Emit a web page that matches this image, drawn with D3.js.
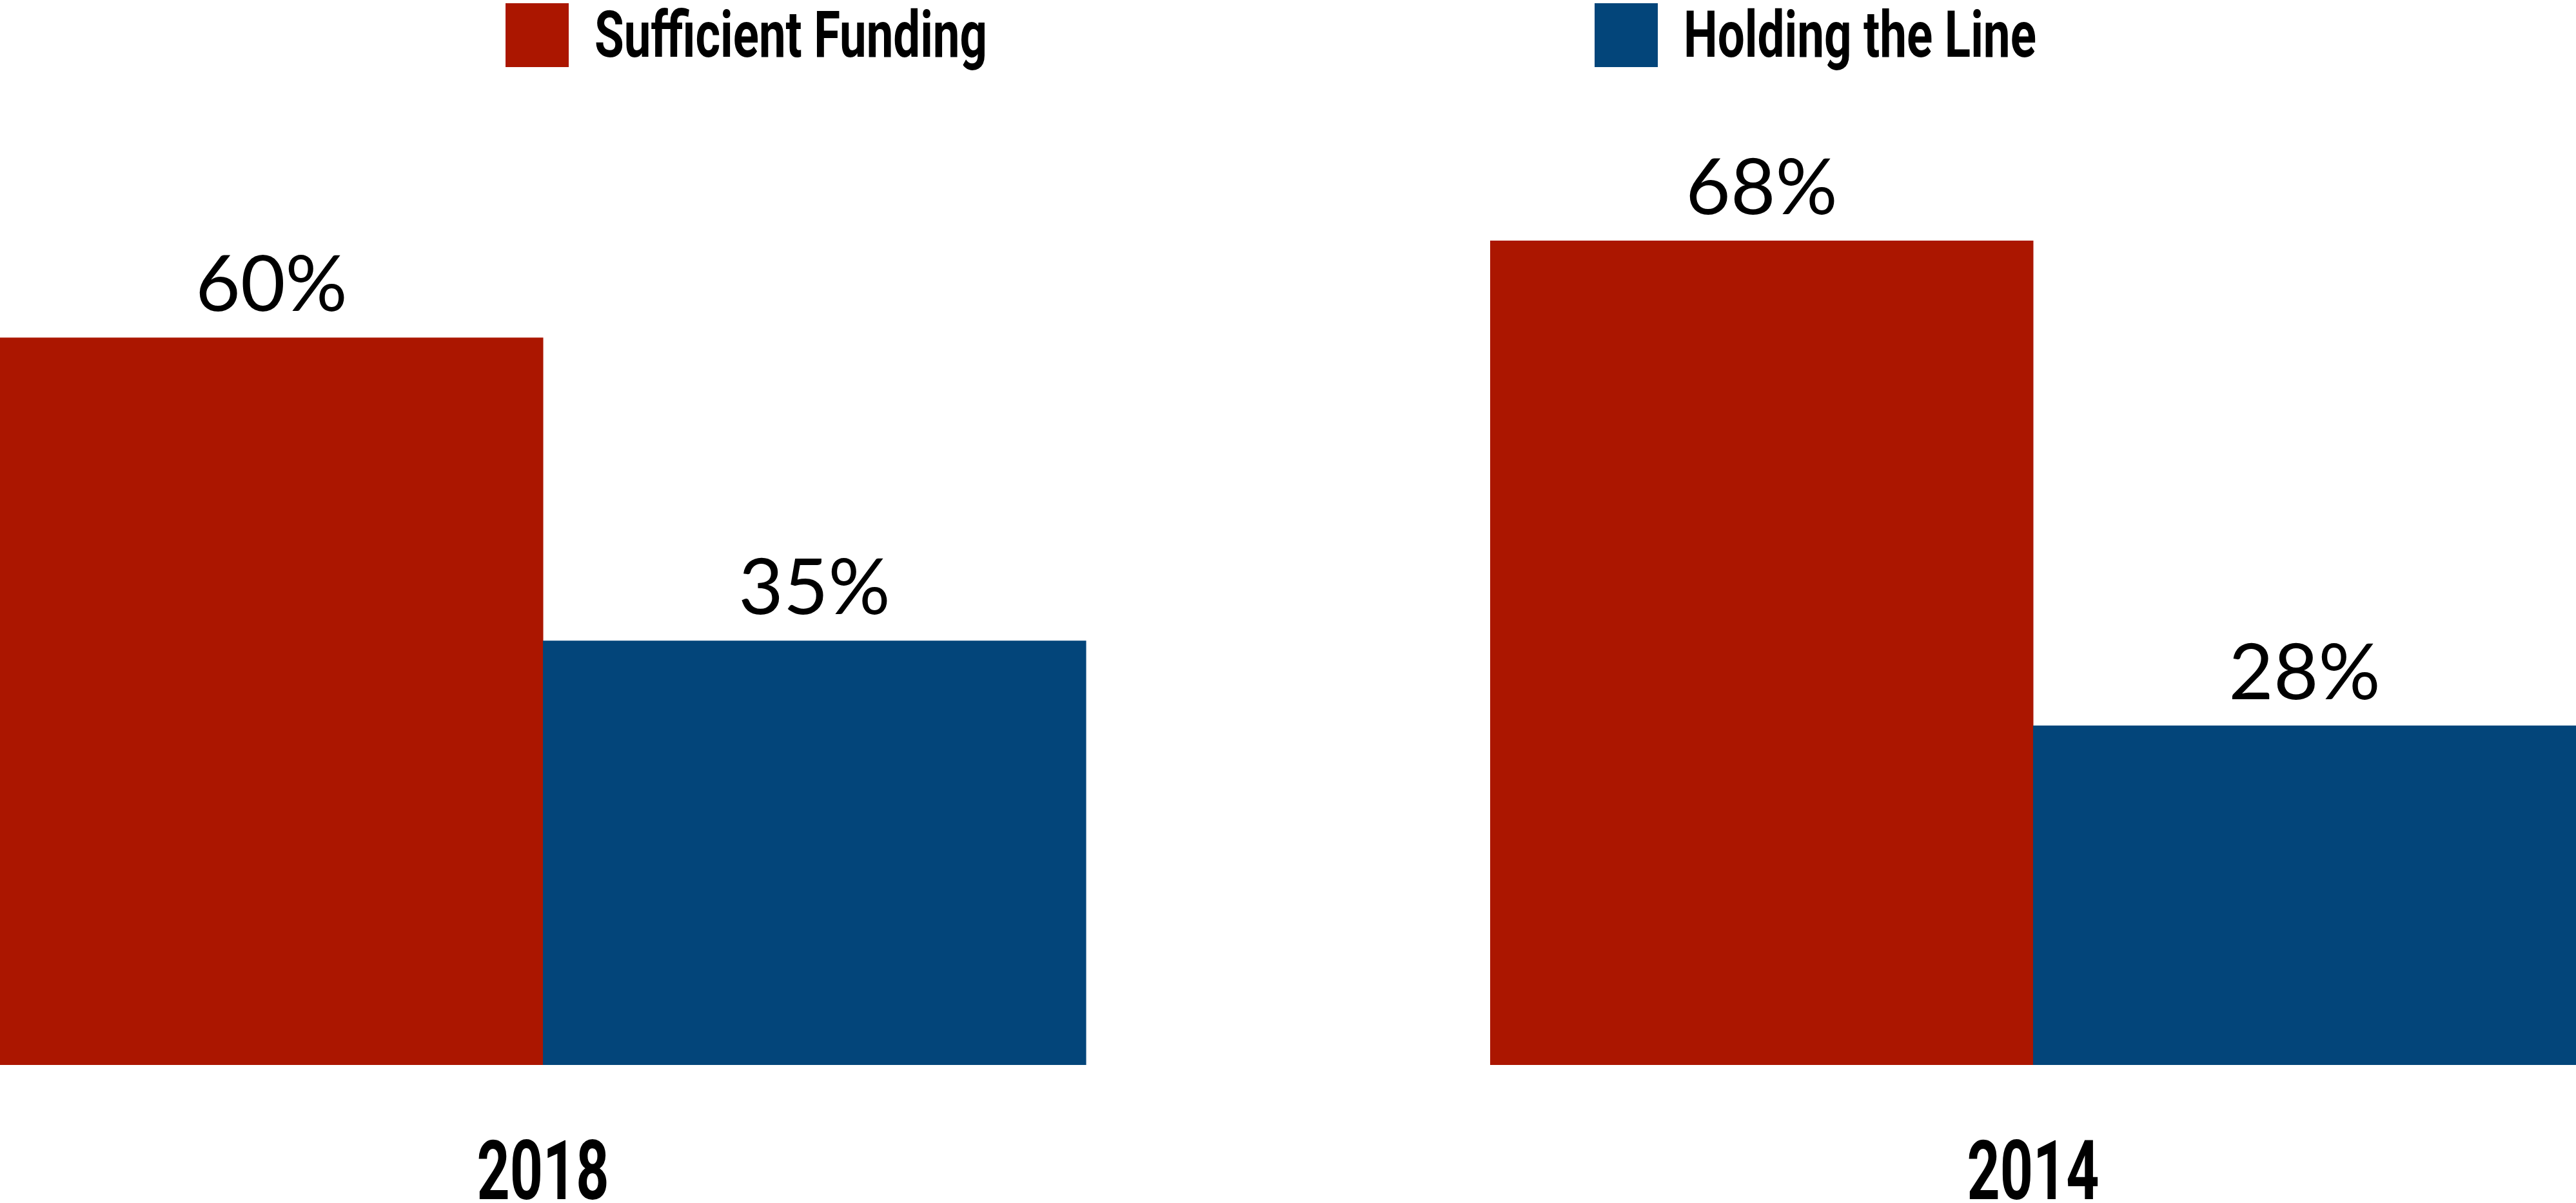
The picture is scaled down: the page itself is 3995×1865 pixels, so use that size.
<!DOCTYPE html>
<html>
<head>
<meta charset="utf-8">
<script src="https://cdn.jsdelivr.net/npm/d3@7"></script>
<style>
  html, body { margin: 0; padding: 0; background: #fff; }
  svg { display: block; }
</style>
</head>
<body>
<div id="chart"></div>
<script>
// values
const years = ["2018", "2014"];
const series = ["Sufficient Funding", "Holding the Line"];
const fundingValues = [60, 68];
const holdingValues = [35, 28];
const colors = ["#AB1600", "#03457A"];

const widthValue = 3995;
const heightValue = 1865;

const svg = d3.select("#chart").append("svg")
  .attr("width", widthValue)
  .attr("height", heightValue)
  .attr("viewBox", `0 0 ${widthValue} ${heightValue}`);

const rows = years.map((yr, i) => ({
  year: yr,
  values: [
    { key: series[0], value: fundingValues[i] },
    { key: series[1], value: holdingValues[i] }
  ]
}));

const x0 = d3.scaleBand().domain(years).range([0, widthValue]).paddingInner(0.2713).paddingOuter(0);
const x1 = d3.scaleBand().domain(series).range([0, x0.bandwidth()]);
const color = d3.scaleOrdinal().domain(series).range(colors);

const baseline = 1651;
const y = d3.scaleLinear().domain([0, 68]).range([baseline, 373]);

// squeeze a text horizontally to a target width (condensed look)
function condense(sel, targetW, anchorX) {
  sel.each(function () {
    const w = this.getComputedTextLength();
    const k = targetW / w;
    d3.select(this).attr("transform", `translate(${anchorX},0) scale(${k},1)`);
  });
}

const groups = svg.selectAll("g.group").data(rows).enter().append("g")
  .attr("class", "group")
  .attr("transform", (d) => `translate(${x0(d.year)},0)`);

groups.selectAll("rect").data((d) => d.values).enter().append("rect")
  .attr("x", (d) => x1(d.key))
  .attr("y", (d) => y(d.value))
  .attr("width", x1.bandwidth() + 0.5)
  .attr("height", (d) => baseline - y(d.value))
  .attr("fill", (d) => color(d.key));

groups.selectAll("text.val").data((d) => d.values).enter().append("text")
  .attr("class", "val")
  .attr("x", (d) => x1(d.key) + x1.bandwidth() / 2)
  .attr("y", (d) => y(d.value) - 41)
  .attr("text-anchor", "middle")
  .style("font-family", "Lato, 'Open Sans', sans-serif")
  .style("font-weight", 400)
  .style("font-size", "120px")
  .attr("fill", "#000")
  .text((d) => `${d.value}%`);

// category labels under each group
groups.append("text")
  .attr("class", "year")
  .attr("x", 0)
  .attr("y", 1859)
  .attr("text-anchor", "middle")
  .style("font-family", "Roboto, 'Liberation Sans', sans-serif")
  .style("font-weight", 700)
  .style("font-size", "128px")
  .text((d) => d.year)
  .call(condense, 205, x0.bandwidth() / 2);

// legend
const legendX = [784, 2473];
const legendTextW = [609, 547];
const legend = svg.selectAll("g.legend").data(series).enter().append("g")
  .attr("class", "legend")
  .attr("transform", (d, i) => `translate(${legendX[i]},0)`);

legend.append("rect")
  .attr("x", 0)
  .attr("y", 5)
  .attr("width", 98)
  .attr("height", 99)
  .attr("fill", (d) => color(d));

legend.append("text")
  .attr("x", 0)
  .attr("y", 88)
  .style("font-family", "Roboto, 'Liberation Sans', sans-serif")
  .style("font-weight", 700)
  .style("font-size", "100px")
  .text((d) => d)
  .each(function (d, i) {
    d3.select(this).call(condense, legendTextW[i], 138);
  });
</script>
</body>
</html>
